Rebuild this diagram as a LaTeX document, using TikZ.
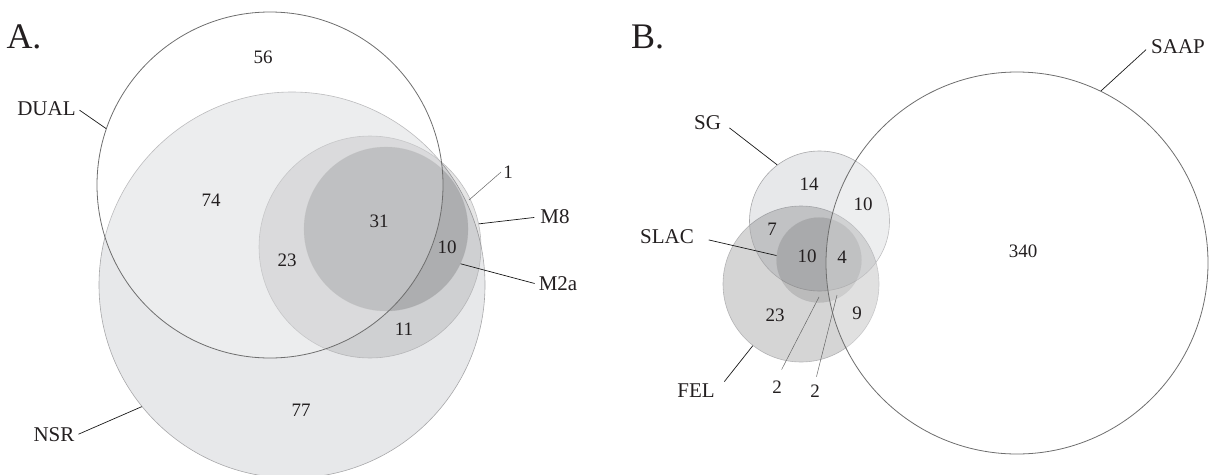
\documentclass[tikz,border=0pt]{standalone}
\usepackage{fontspec}
\setmainfont{Liberation Serif}
\definecolor{basefill}{HTML}{E7E8EA}
\definecolor{tint}{RGB}{15,25,45}
\definecolor{txt}{HTML}{231F20}
\definecolor{edgedark}{HTML}{6E6E6E}
\definecolor{edgelight}{HTML}{A8A8AA}
\begin{document}
\begin{tikzpicture}[x=1pt,y=-1pt,
  venn/.style={circle, inner sep=0pt, minimum size=#1},
  basecirc/.style={fill=basefill, draw=edgelight, line width=0.6pt},
  shade/.style={fill=black, fill opacity=#1, draw=edgelight, draw opacity=0.7, line width=0.6pt},
  overlay/.style={fill=white, fill opacity=0.23, draw=edgedark, line width=0.8pt},
  panel/.style={font=\fontsize{36}{40}\selectfont, text=txt, inner sep=0pt},
  lbl/.style={font=\fontsize{21}{24}\selectfont, text=txt, inner sep=2pt},
  num/.style={font=\fontsize{19}{22}\selectfont, text=txt, inner sep=1pt},
  small/.style={font=\fontsize{19}{22}\selectfont, text=txt, inner sep=2pt},
  leader/.style={draw=black!90, line width=0.7pt},
  thinleader/.style={draw=black!60, line width=0.5pt}]
\useasboundingbox (0,0) rectangle (1209,474);

% ---------------- Panel A ----------------
\node[panel] (pA) at (24,37) {A.};
\node[venn=386pt, basecirc] (nsr) at (292,285) {};
\node[venn=222pt, shade=0.10] (m8) at (370,247) {};
\node[venn=164pt, shade=0.16, draw opacity=0.3] (m2a) at (386,229) {};
\node[venn=346pt, overlay] (dual) at (270,185) {};

\node[num] (n56) at (263,57) {56};
\node[num] (n74) at (211,200) {74};
\node[num] (n31) at (379,221) {31};
\node[num] (n23) at (287,260) {23};
\node[num] (n10a) at (447,247) {10};
\node[num] (n11) at (404,329) {11};
\node[num] (n77) at (301,410) {77};
\node[small] (n1) at (508,172) {1};

\node[lbl] (duallbl) at (46.5,109) {DUAL};
\node[lbl] (nsrlbl) at (54,435) {NSR};
\node[lbl] (m8lbl) at (555,217) {M8};
\node[lbl] (m2albl) at (558,284) {M2a};

\coordinate (p1) at (469,200);
\draw[leader, shorten <=2pt] (duallbl.east) -- (dual.161.9);
\draw[leader, shorten <=2pt] (nsrlbl.east) -- (nsr.219.3);
\draw[leader, shorten <=4pt] (m8lbl.west) -- (m8.12.3);
\draw[leader, shorten <=2pt] (m2albl.west) -- (m2a.-25);
\draw[thinleader] (n1.west) -- (p1);

% ---------------- Panel B ----------------
\node[panel] (pB) at (647.5,37) {B.};
\node[venn=156pt, fill=black, fill opacity=0.165, draw=edgelight, draw opacity=0.8, line width=0.6pt] (fel) at (801,284) {};
\node[venn=140pt, fill=tint, fill opacity=0.1, draw=edgelight, line width=0.6pt] (sg) at (819.5,221) {};
\node[venn=85pt, shade=0.12, draw opacity=0.3] (slac) at (819,260) {};
\node[venn=382pt, overlay, fill opacity=0.27] (saap) at (1017,263) {};

\node[num] (n14) at (809,184) {14};
\node[num] (n10b) at (863,204) {10};
\node[num] (n7) at (772,229) {7};
\node[num] (n10c) at (807,256) {10};
\node[num] (n4) at (842,257) {4};
\node[num] (n23b) at (775,315) {23};
\node[num] (n9) at (857,313) {9};
\node[num] (n340) at (1023,251) {340};
\node[small] (n2a) at (777,387) {2};
\node[small] (n2b) at (815,391) {2};

\node[lbl] (sglbl) at (707.5,123) {SG};
\node[lbl] (slaclbl) at (667,237) {SLAC};
\node[lbl] (fellbl) at (696,391) {FEL};
\node[lbl] (saaplbl) at (1178,47) {SAAP};

\coordinate (p2a) at (819,297);
\coordinate (p2b) at (837,295);
\draw[leader, shorten <=8pt] (sglbl.east) -- (sg.127.7);
\draw[leader, shorten <=13pt] (slaclbl.east) -- (slac.174.6);
\draw[leader, shorten <=12pt] (fellbl.east) -- (fel.232.8);
\draw[leader, shorten <=4pt] (saaplbl.west) -- (saap.64.5);
\draw[thinleader, shorten <=10pt] (n2a.north) -- (p2a);
\draw[thinleader, shorten <=6pt] (n2b.north) -- (p2b);
\end{tikzpicture}
\end{document}
